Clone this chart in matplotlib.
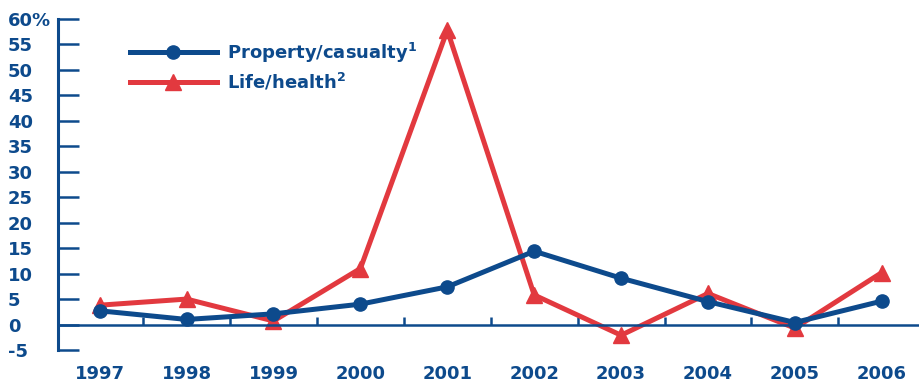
import matplotlib.pyplot as plt
from matplotlib.ticker import MultipleLocator

# Annual growth (%)
years = [1997, 1998, 1999, 2000, 2001, 2002, 2003, 2004, 2005, 2006]
property_casualty = [2.7, 1.0, 2.1, 4.0, 7.4, 14.4, 9.1, 4.5, 0.4, 4.6]
life_health = [3.8, 5.0, 0.7, 11.0, 57.8, 5.8, -2.1, 6.1, -0.7, 10.2]
y_ticks = [-5, 0, 5, 10, 15, 20, 25, 30, 35, 40, 45, 50, 55, 60]

blue = '#0d4a8c'
red = '#e2393f'

plt.rcParams['font.family'] = ['DejaVu Sans']
plt.rcParams['font.weight'] = 'bold'

fig = plt.figure(figsize=(9.2, 3.82), dpi=100)
ax = fig.add_axes([58 / 920, 1 - 350 / 382, 1 - 58 / 920, 331 / 382])

ax.plot(years, property_casualty, color=blue, linewidth=3.6, marker='o',
        markersize=9.5, label='Property/casualty$^\\mathbf{1}$', zorder=3)
ax.plot(years, life_health, color=red, linewidth=3.6, marker='^',
        markersize=11, label='Life/health$^\\mathbf{2}$', zorder=2)

ax.set_xlim(1996.52, 2006.44)
ax.set_ylim(-5, 60)

# y axis
ax.set_yticks(y_ticks)
ax.set_yticklabels([f'{v}%' if v == 60 else str(v) for v in y_ticks])
ax.tick_params(axis='y', direction='in', length=15, width=1.8, color=blue,
               labelcolor=blue, labelsize=13, pad=36)
for lab in ax.get_yticklabels():
    lab.set_ha('left')

# x axis along zero
ax.spines['bottom'].set_position(('data', 0))
ax.spines['bottom'].set_color(blue)
ax.spines['bottom'].set_linewidth(1.8)
ax.spines['left'].set_color(blue)
ax.spines['left'].set_linewidth(2.2)
ax.spines['top'].set_visible(False)
ax.spines['right'].set_visible(False)
ax.set_xticks(years)
ax.set_xticklabels([str(y) for y in years])
ax.xaxis.set_minor_locator(MultipleLocator(1, offset=0.5))
ax.tick_params(axis='x', which='major', length=0, labelcolor=blue,
               labelsize=13, pad=29)
ax.tick_params(axis='x', which='minor', direction='in', length=6, width=1.8,
               color=blue)

leg = ax.legend(loc='upper left', bbox_to_anchor=(0.0835, 0.935), frameon=False,
                handlelength=4.8, handletextpad=0.55, labelspacing=0.35,
                borderpad=0, borderaxespad=0, prop={'size': 13, 'weight': 'bold'})
for t in leg.get_texts():
    t.set_color(blue)

fig.savefig('out.png', dpi=100)
